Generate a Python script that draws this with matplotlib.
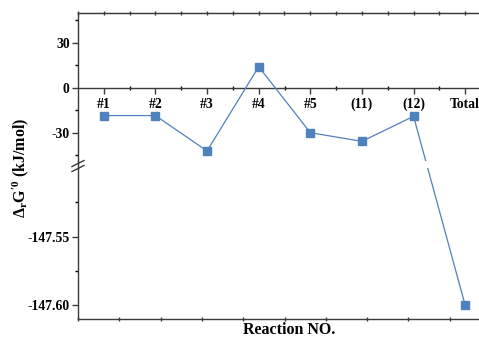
import numpy as np
import matplotlib
matplotlib.use("Agg")
import matplotlib.pyplot as plt
from matplotlib.lines import Line2D

plt.rcParams['font.family'] = 'serif'
plt.rcParams['font.serif'] = ['Liberation Serif', 'DejaVu Serif']
plt.rcParams['font.weight'] = 'bold'
plt.rcParams['axes.unicode_minus'] = False
plt.rcParams['mathtext.fontset'] = 'custom'
plt.rcParams['mathtext.rm'] = 'Liberation Serif:bold'
plt.rcParams['mathtext.it'] = 'Liberation Serif:italic:bold'
plt.rcParams['mathtext.bf'] = 'Liberation Serif:bold'

# ---- data ----
categories = ['#1', '#2', '#3', '#4', '#5', '(11)', '(12)', 'Total']
values = [-18.4, -18.4, -42.0, 14.2, -29.8, -35.6, -18.9, -147.60]
upper_ticks = [-30, 0, 30]
lower_ticks = [-147.60, -147.55]

W, H = 479, 342
fig = plt.figure(figsize=(W / 100, H / 100), dpi=100)

def fx(px):
    return px / W

def fy(py):
    return 1 - py / H

left_px, right_px = 78, 491
top_px, brk_top, brk_bot, bot_px = 13, 161, 168, 319

ax_t = fig.add_axes([fx(left_px), fy(brk_top), fx(right_px - left_px), (brk_top - top_px) / H])
ax_b = fig.add_axes([fx(left_px), fy(bot_px), fx(right_px - left_px), (bot_px - brk_bot) / H])

spine_c = '#3a3a3a'
line_c = '#4f81bd'
x = np.arange(1, len(categories) + 1)

ax_t.set_xlim(0.5, 8.5)
ax_b.set_xlim(0.5, 8.5)
ax_t.set_ylim(-48.7, 50)
ax_b.set_ylim(-147.61, -147.50)

ax_t.plot(x[:7], values[:7], color=line_c, lw=0.9, marker='s', ms=5.5,
          mfc=line_c, mec=line_c, zorder=3)
ax_b.plot(x[7:], values[7:], color=line_c, lw=0.9, marker='s', ms=5.5,
          mfc=line_c, mec=line_c, zorder=3, clip_on=False)

# connector across the break
p1 = ax_t.transData.transform((x[6], values[6]))
p2 = ax_b.transData.transform((x[7], values[7]))
for ax in (ax_t, ax_b):
    pts = ax.transData.inverted().transform(np.array([p1, p2]))
    ax.plot(pts[:, 0], pts[:, 1], color=line_c, lw=0.9, zorder=2)

for ax in (ax_t, ax_b):
    for s in ax.spines.values():
        s.set_color(spine_c)
        s.set_linewidth(1.0)
    ax.spines['right'].set_visible(False)
    ax.tick_params(colors=spine_c, labelcolor='black')

fs_tick = 9.8

# upper axes
ax_t.spines['bottom'].set_position(('data', 0))
ax_t.set_xticks(x)
ax_t.set_xticklabels(categories, fontsize=fs_tick, fontweight='bold')
ax_t.set_xticks(np.arange(1.5, 8.5, 1.0), minor=True)
ax_t.tick_params(axis='x', which='major', direction='out', length=4.5, width=1.0, pad=2.5)
ax_t.tick_params(axis='x', which='minor', direction='inout', length=2.5, width=1.0)
ax_t.set_yticks(upper_ticks)
ax_t.set_yticklabels([str(v) for v in upper_ticks], fontsize=fs_tick, fontweight='bold')
ax_t.set_yticks([-45, -15, 15, 45], minor=True)
ax_t.tick_params(axis='y', which='major', direction='out', length=4, width=1.0, pad=2)
ax_t.tick_params(axis='y', which='minor', direction='out', length=2.5, width=1.0)

sec = ax_t.secondary_xaxis('top')
sec.set_xticks(np.arange(0.5, 8.6, 0.5))
sec.set_xticklabels([])
sec.tick_params(direction='inout', length=2.5, width=1.0, colors=spine_c)
sec.spines['top'].set_color(spine_c)

# lower axes
ax_b.spines['top'].set_visible(False)
ax_b.set_xticks(np.linspace(0.5, 8.5, 11))
ax_b.set_xticklabels([])
ax_b.tick_params(axis='x', direction='inout', length=2.5, width=1.0)
ax_b.set_yticks(lower_ticks)
ax_b.set_yticklabels(['%.2f' % v for v in lower_ticks], fontsize=fs_tick, fontweight='bold')
ax_b.set_yticks([-147.575, -147.525], minor=True)
ax_b.tick_params(axis='y', which='major', direction='out', length=4, width=1.0, pad=2)
ax_b.tick_params(axis='y', which='minor', direction='out', length=2.5, width=1.0)

# continuous left spine through the break, with break marks
fig.add_artist(Line2D([fx(left_px), fx(left_px)], [fy(brk_top), fy(brk_bot)],
                      color=spine_c, lw=1.0))
for dy in (0, 5):
    fig.add_artist(Line2D([fx(72), fx(84)], [fy(166.5 + dy), fy(160.5 + dy)],
                          color=spine_c, lw=1.0))

fig.text(fx(21), fy(168), r"$\mathrm{\Delta_r G^{\prime 0}}$ (kJ/mol)", rotation=90,
         ha='center', va='center', fontsize=11.5, fontweight='bold')
fig.text(fx(289), fy(330), "Reaction NO.", ha='center', va='center',
         fontsize=11.5, fontweight='bold')

fig.savefig('out.png', dpi=100)
